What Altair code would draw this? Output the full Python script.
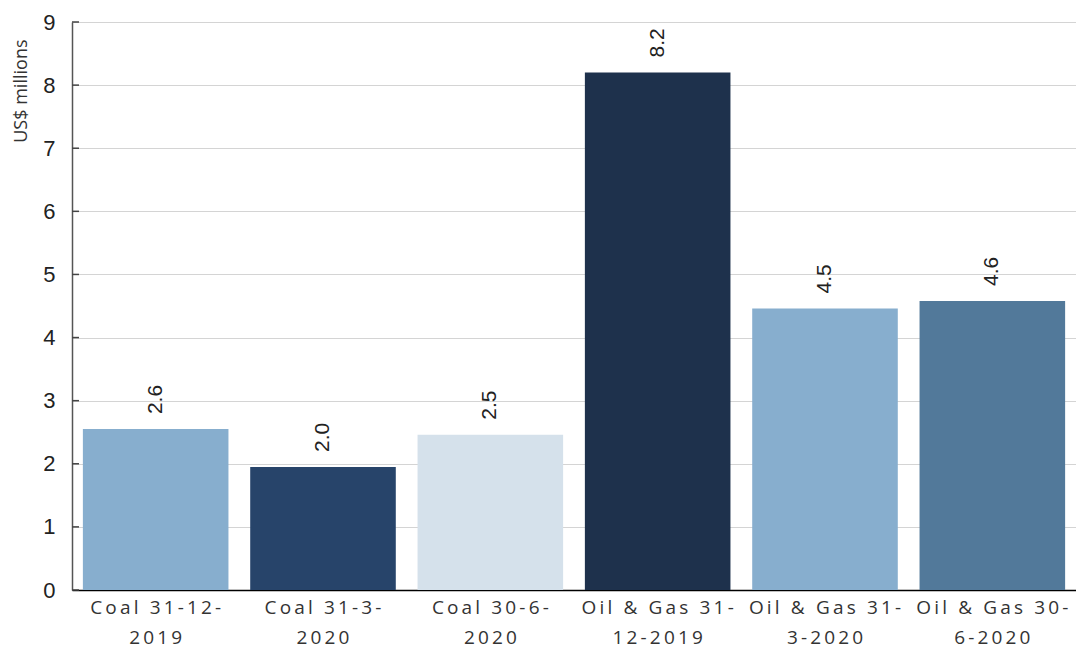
import json
import altair as alt
import pandas as pd

line1 = ["Coal 31-12-", "Coal 31-3-", "Coal 30-6-", "Oil & Gas 31-", "Oil & Gas 31-", "Oil & Gas 30-"]
line2 = ["2019", "2020", "2020", "12-2019", "3-2020", "6-2020"]
categories = [a + b for a, b in zip(line1, line2)]
values = [2.55, 1.95, 2.46, 8.2, 4.46, 4.58]
value_labels = ["2.6", "2.0", "2.5", "8.2", "4.5", "4.6"]
colors = ["#87AECE", "#27446A", "#D5E1EB", "#1E314C", "#87AECE", "#52799A"]
y_ticks = list(range(10))

df = pd.DataFrame({"category": categories, "value": values, "label": value_labels})
ticks_df = pd.DataFrame({"tick": y_ticks})


def spaced(s):
    return "\u2009".join(list(s))


expr = ""
for c, a, b in zip(categories, line1, line2):
    expr += (
        f"datum.value == {json.dumps(c, ensure_ascii=False)} ? "
        f"[{json.dumps(spaced(a), ensure_ascii=False)}, {json.dumps(spaced(b), ensure_ascii=False)}] : "
    )
expr += "datum.label"

yscale = alt.Scale(domain=[0, 9], nice=False)

x = alt.X(
    "category:N",
    sort=categories,
    scale=alt.Scale(paddingInner=0.13, paddingOuter=0.065),
    axis=alt.Axis(
        title=None,
        labelAngle=0,
        labelExpr=expr,
        labelFont="Open Sans",
        labelFontSize=19,
        labelColor="#333333",
        labelPadding=8,
        labelLineHeight=30,
        ticks=False,
        domainColor="#000000",
        domainWidth=1.5,
        grid=False,
    ),
)

y = alt.Y(
    "value:Q",
    scale=yscale,
    axis=alt.Axis(
        values=y_ticks,
        format="d",
        title="US$ millions",
        titleFont="Open Sans",
        titleFontSize=18,
        titleFontWeight="normal",
        titleColor="#333333",
        titleAngle=270,
        titleAlign="right",
        titleBaseline="top",
        titleX=-60,
        titleY=17,
        labelFont="Liberation Sans",
        labelFontSize=22,
        labelColor="#222222",
        labelPadding=17,
        ticks=False,
        domainColor="#555555",
        domainWidth=1.5,
        gridColor="#d4d4d4",
        gridWidth=1,
    ),
)

bars = alt.Chart(df).mark_bar().encode(
    x=x,
    y=y,
    color=alt.Color("category:N", scale=alt.Scale(domain=categories, range=colors), legend=None),
)

tick_marks = alt.Chart(ticks_df).mark_rule(color="#444444", strokeWidth=1.5).encode(
    y=alt.Y("tick:Q", scale=yscale),
    x=alt.value(0),
    x2=alt.value(7),
)

text = alt.Chart(df).mark_text(
    angle=270, align="left", baseline="middle", dx=15, fontSize=21, font="Liberation Sans", color="#222222"
).encode(x=alt.X("category:N", sort=categories), y=alt.Y("value:Q", scale=yscale), text="label:N")

chart = (
    alt.layer(bars, tick_marks, text)
    .properties(
        width=1004,
        height=568,
        autosize=alt.AutoSizeParams(type="none"),
        padding={"left": 64, "top": 14, "right": 0, "bottom": 60},
    )
    .configure_view(stroke=None)
)

chart.save("out.html", embed_options={"renderer": "svg", "actions": False})
